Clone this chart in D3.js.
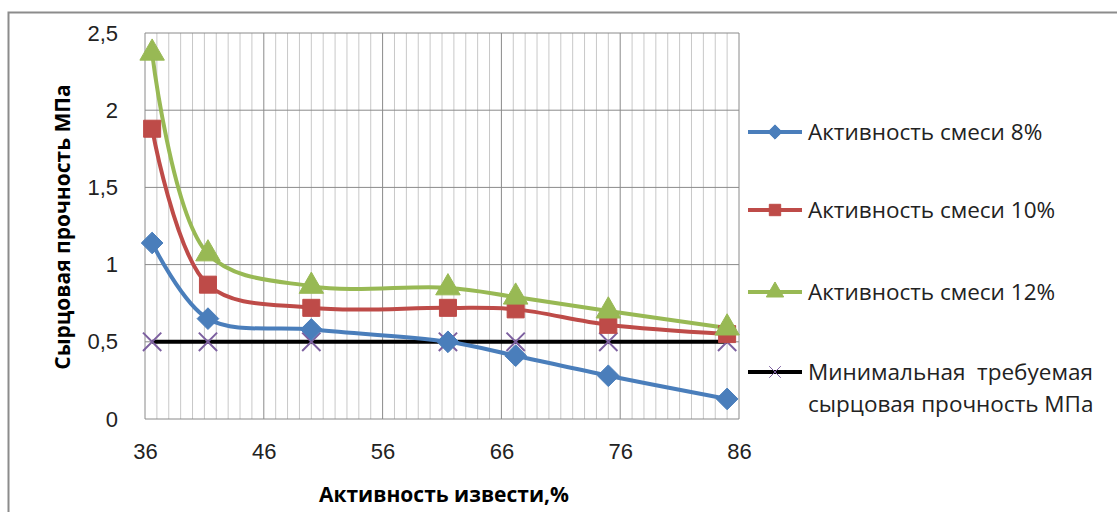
<!DOCTYPE html>
<html>
<head>
<meta charset="utf-8">
<script src="https://cdn.jsdelivr.net/npm/d3@7"></script>
<style>
  body { margin: 0; background: #fff; }
  svg { display: block; font-family: "Open Sans", "Liberation Sans", sans-serif; }
</style>
</head>
<body>
<svg width="1117" height="512"></svg>
<script>
// данные
const limeActivity = [36.6, 41.3, 50, 61.5, 67.2, 75, 85];
const mix8  = [1.14, 0.65, 0.58, 0.50, 0.41, 0.28, 0.13];
const mix10 = [1.88, 0.87, 0.72, 0.72, 0.71, 0.61, 0.55];
const mix12 = [2.37, 1.07, 0.86, 0.85, 0.79, 0.70, 0.59];
const minStrength = [0.5, 0.5, 0.5, 0.5, 0.5, 0.5, 0.5];
const xTicks = [36, 46, 56, 66, 76, 86];
const yTicks = [0, 0.5, 1, 1.5, 2, 2.5];
const seriesNames = ["Активность смеси 8%", "Активность смеси 10%", "Активность смеси 12%",
                     "Минимальная  требуемая|сырцовая прочность МПа"];

const svg = d3.select("svg");

// рамка диаграммы
svg.append("path")
   .attr("d", "M8.5,512 L8.5,12.5 L1117,12.5")
   .attr("fill", "none")
   .attr("stroke", "#8c8c8c")
   .attr("stroke-width", 2);

const plot = { left: 145, right: 739, top: 33, bottom: 419 };

const x = d3.scaleLinear().domain([36, 86]).range([plot.left, plot.right]);
const y = d3.scaleLinear().domain([0, 2.5]).range([plot.bottom, plot.top]);

// сетка: мелкие вертикальные линии
const g = svg.append("g");
g.selectAll(".minor")
 .data(d3.range(37, 86).filter(v => (v - 36) % 10 !== 0))
 .enter().append("line")
 .attr("x1", d => x(d)).attr("x2", d => x(d))
 .attr("y1", plot.top).attr("y2", plot.bottom)
 .attr("stroke", "#c8c8c8").attr("stroke-width", 1);

g.selectAll(".majorx")
 .data(xTicks)
 .enter().append("line")
 .attr("x1", d => x(d)).attr("x2", d => x(d))
 .attr("y1", plot.top).attr("y2", plot.bottom)
 .attr("stroke", "#8a8a8a").attr("stroke-width", 1);

g.selectAll(".majory")
 .data(yTicks)
 .enter().append("line")
 .attr("x1", plot.left).attr("x2", plot.right)
 .attr("y1", d => y(d)).attr("y2", d => y(d))
 .attr("stroke", "#8a8a8a").attr("stroke-width", 1);

// оси
const fmt = v => String(v).replace(".", ",");
const yAxis = svg.append("g")
   .attr("transform", `translate(${plot.left},0)`)
   .call(d3.axisLeft(y).tickValues(yTicks).tickFormat(fmt).tickSize(0).tickPadding(27));
yAxis.select(".domain").remove();
yAxis.selectAll("text").style("font-size", "22px").attr("fill", "#222");

const xAxis = svg.append("g")
   .attr("transform", `translate(0,${plot.bottom})`)
   .call(d3.axisBottom(x).tickValues(xTicks).tickSize(0).tickPadding(24));
xAxis.select(".domain").remove();
xAxis.selectAll("text").style("font-size", "22px").attr("fill", "#222");

// подписи осей
svg.append("text")
   .attr("transform", "translate(70,227) rotate(-90)")
   .attr("text-anchor", "middle")
   .style("font-size", "21px").style("font-weight", "bold")
   .text("Сырцовая прочность МПа");

svg.append("text")
   .attr("x", 444).attr("y", 502)
   .attr("text-anchor", "middle")
   .style("font-size", "21px").style("font-weight", "bold")
   .text("Активность извести,%");

// маркеры
const colors = ["#4a7ebb", "#be4b48", "#98b954", "#000000"];
const markerColors = ["#4a7ebb", "#be4b48", "#98b954", "#7d60a0"];
const symbols = [
  d3.symbol().type(d3.symbolDiamond2).size(300),
  d3.symbol().type(d3.symbolSquare).size(290),
  d3.symbol().type(d3.symbolTriangle).size(260),
  d3.symbol().type(d3.symbolX).size(220)
];
const allSeries = [mix8, mix10, mix12, minStrength];

const smooth = d3.line()
  .x(d => x(d[0]))
  .y(d => y(d[1]))
  .curve(d3.curveCatmullRom.alpha(0.5));
const straight = d3.line()
  .x(d => x(d[0]))
  .y(d => y(d[1]));

const drawOrder = [3, 0, 1, 2];
drawOrder.forEach(i => {
  const pts = limeActivity.map((v, j) => [v, allSeries[i][j]]);
  svg.append("path")
     .datum(pts)
     .attr("d", i === 3 ? straight : smooth)
     .attr("fill", "none")
     .attr("stroke", colors[i])
     .attr("stroke-width", 4);
});
drawOrder.forEach(i => {
  const pts = limeActivity.map((v, j) => [v, allSeries[i][j]]);
  svg.selectAll(null).data(pts).enter().append("path")
     .attr("transform", d => `translate(${x(d[0])},${y(d[1])})`)
     .attr("d", symbols[i]())
     .attr("fill", i === 3 ? "none" : markerColors[i])
     .attr("stroke", markerColors[i])
     .attr("stroke-width", i === 3 ? 2 : 1);
});

// легенда
const legendY = [132, 210, 292, 372];
seriesNames.forEach((name, i) => {
  const lg = svg.append("g").attr("transform", `translate(748,${legendY[i]})`);
  lg.append("line")
    .attr("x1", 0).attr("x2", 54).attr("y1", 0).attr("y2", 0)
    .attr("stroke", colors[i]).attr("stroke-width", 4);
  lg.append("path")
    .attr("transform", "translate(27,0)")
    .attr("d", d3.symbol().type(symbols[i].type()).size(i === 3 ? 90 : 130)())
    .attr("fill", i === 3 ? "none" : markerColors[i])
    .attr("stroke", markerColors[i])
    .attr("stroke-width", 1);
  const t = lg.append("text")
    .attr("x", 60).attr("y", 8)
    .attr("xml:space", "preserve")
    .style("white-space", "pre")
    .style("font-size", "22.5px").attr("fill", "#222");
  name.split("|").forEach((part, k) => {
    t.append("tspan").attr("x", 60).attr("dy", k === 0 ? 0 : 32).text(part);
  });
});
</script>
</body>
</html>
